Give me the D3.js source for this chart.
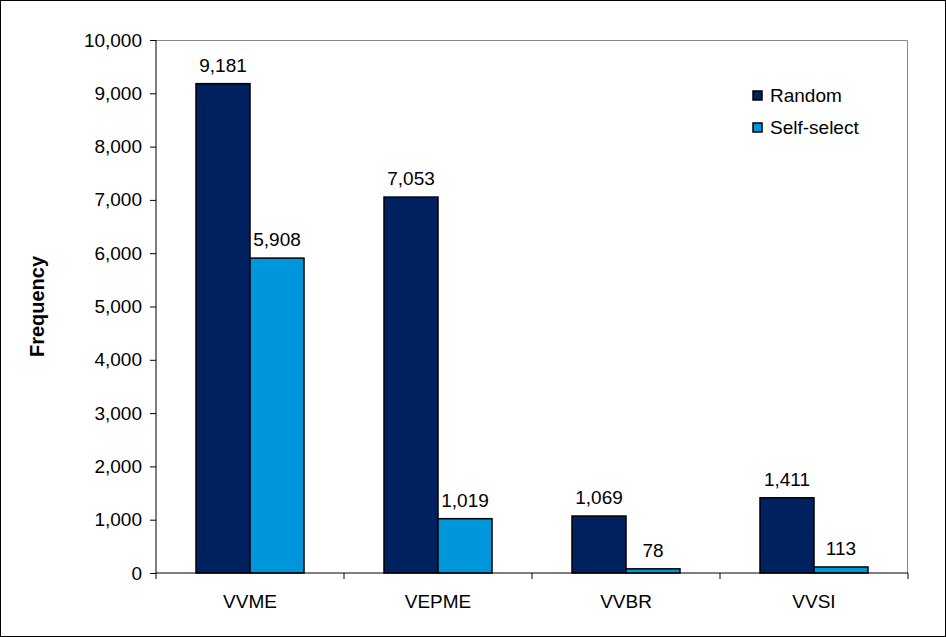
<!DOCTYPE html>
<style>
body { margin: 0; background: #fff; }
svg { font-family: Arial, "Liberation Sans", sans-serif; }
</style>
<script src="https://d3js.org/d3.v7.min.js"></script>
<svg width="946" height="637"></svg>
<script>
var categories = ["VVME", "VEPME", "VVBR", "VVSI"];
var seriesNames = ["Random", "Self-select"];
var random = [9181, 7053, 1069, 1411];
var selfSelect = [5908, 1019, 78, 113];
var yTicks = [0, 1000, 2000, 3000, 4000, 5000, 6000, 7000, 8000, 9000, 10000];

var colors = ["#00215f", "#0096dc"];
var fs = 19;
var svg = d3.select("svg"),
    margin = {left: 156, right: 38, top: 40, bottom: 64},
    width = 946 - margin.left - margin.right,
    height = 637 - margin.top - margin.bottom;

svg.append("rect").attr("x", 0.5).attr("y", 0.5).attr("width", 945).attr("height", 636)
    .attr("fill", "none").attr("stroke", "#000");

var g = svg.append("g").attr("transform", "translate(" + margin.left + "," + margin.top + ")");

var x = d3.scaleBand().domain(categories).range([0, width]).paddingInner(0).paddingOuter(0);
var x1 = d3.scaleBand().domain(seriesNames).range([40, x.bandwidth() - 40]);
var y = d3.scaleLinear().domain([0, 10000]).range([height, 0]);
var fmt = d3.format(",");

// plot frame (top and right)
g.append("path").attr("d", "M0,0.5H" + (width - 0.5) + "V" + height)
    .attr("fill", "none").attr("stroke", "#888");

var data = categories.map(function(c, i) {
  return {cat: c, vals: [{s: seriesNames[0], v: random[i]}, {s: seriesNames[1], v: selfSelect[i]}]};
});

var grp = g.selectAll(".grp").data(data).enter().append("g")
    .attr("transform", function(d) { return "translate(" + x(d.cat) + ",0)"; });

grp.selectAll("rect").data(function(d) { return d.vals; }).enter().append("rect")
    .attr("x", function(d) { return x1(d.s); })
    .attr("y", function(d) { return y(d.v); })
    .attr("width", x1.bandwidth())
    .attr("height", function(d) { return height - y(d.v); })
    .attr("fill", function(d, i) { return colors[i]; })
    .attr("stroke", "#000").attr("stroke-width", 1.5);

grp.selectAll("text").data(function(d) { return d.vals; }).enter().append("text")
    .attr("x", function(d) { return x1(d.s) + x1.bandwidth() / 2; })
    .attr("y", function(d) { return y(d.v) - 12; })
    .attr("text-anchor", "middle")
    .attr("font-size", fs)
    .text(function(d) { return fmt(d.v); });

// y axis
var yAxis = g.append("g").call(d3.axisLeft(y).tickValues(yTicks).tickFormat(fmt).tickSize(6).tickPadding(8));
yAxis.select(".domain").attr("stroke", "#000").attr("d", "M0," + height + "V0");
yAxis.selectAll("text").attr("font-size", fs).attr("fill", "#000").attr("font-family", "Arial, 'Liberation Sans', sans-serif");

// x axis
var xAxis = g.append("g").attr("transform", "translate(0," + height + ")")
    .call(d3.axisBottom(x).tickSize(0).tickPadding(22));
xAxis.select(".domain").attr("stroke", "#000").attr("d", "M0,0H" + width);
xAxis.selectAll("text").attr("font-size", fs).attr("fill", "#000").attr("font-family", "Arial, 'Liberation Sans', sans-serif");
xAxis.selectAll(".sep").data(d3.range(categories.length + 1)).enter().append("line")
    .attr("x1", function(i) { return i * x.bandwidth(); })
    .attr("x2", function(i) { return i * x.bandwidth(); })
    .attr("y1", 0).attr("y2", 6).attr("stroke", "#000");

svg.append("text")
    .attr("transform", "translate(44," + (margin.top + height / 2) + ") rotate(-90)")
    .attr("text-anchor", "middle").attr("font-weight", "bold").attr("font-size", fs + 1)
    .text("Frequency");

// legend
var leg = svg.append("g").attr("transform", "translate(753,91)");
seriesNames.forEach(function(s, i) {
  leg.append("rect").attr("x", 0).attr("y", i * 32).attr("width", 9).attr("height", 9)
      .attr("fill", colors[i]).attr("stroke", "#000").attr("stroke-width", 1.5);
  leg.append("text").attr("x", 17).attr("y", i * 32 + 11).attr("font-size", fs).text(s);
});
</script>
